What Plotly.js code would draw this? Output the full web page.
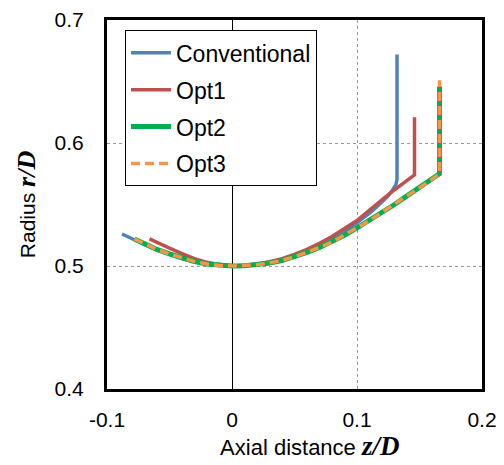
<!DOCTYPE html>
<html>
<head>
<meta charset="utf-8">
<script src="https://cdn.plot.ly/plotly-3.0.1.min.js"></script>
<style>html,body{margin:0;padding:0;background:#fff;}#chart{width:504px;height:465px;}</style>
</head>
<body>
<div id="chart"></div>
<script>
// Data
const convZ = [-0.088, -0.08, -0.07, -0.06, -0.05, -0.04, -0.03, -0.02, -0.01, 0, 0.01, 0.02, 0.03, 0.04, 0.05, 0.06, 0.07, 0.08, 0.09, 0.1, 0.105, 0.11, 0.115, 0.12, 0.124, 0.128, 0.131, 0.132, 0.132];
const convR = [0.526, 0.522, 0.5175, 0.513, 0.5095, 0.506, 0.5035, 0.5015, 0.5004, 0.5, 0.5003, 0.501, 0.5025, 0.5045, 0.5075, 0.511, 0.5155, 0.521, 0.5275, 0.535, 0.539, 0.543, 0.5475, 0.552, 0.556, 0.561, 0.566, 0.570, 0.672];

const opt1Z = [-0.066, -0.06, -0.05, -0.04, -0.03, -0.02, -0.01, 0, 0.01, 0.02, 0.03, 0.04, 0.05, 0.06, 0.07, 0.08, 0.09, 0.1, 0.11, 0.12, 0.13, 0.138, 0.146, 0.146];
const opt1R = [0.522, 0.519, 0.5145, 0.510, 0.506, 0.503, 0.501, 0.5, 0.5004, 0.5015, 0.5035, 0.506, 0.5095, 0.5135, 0.5185, 0.524, 0.5305, 0.537, 0.5455, 0.554, 0.562, 0.568, 0.574, 0.621];

const opt2Z = [-0.078, -0.07, -0.06, -0.05, -0.04, -0.03, -0.02, -0.01, 0, 0.01, 0.02, 0.03, 0.04, 0.05, 0.06, 0.07, 0.08, 0.09, 0.1, 0.11, 0.12, 0.13, 0.14, 0.15, 0.158, 0.166, 0.166];
const opt2R = [0.522, 0.518, 0.5135, 0.5098, 0.5065, 0.5037, 0.5016, 0.5004, 0.5, 0.5003, 0.501, 0.5025, 0.5045, 0.5075, 0.511, 0.515, 0.5195, 0.525, 0.531, 0.537, 0.5435, 0.550, 0.557, 0.5635, 0.569, 0.575, 0.646];

const opt3Z = [-0.078, -0.07, -0.06, -0.05, -0.04, -0.03, -0.02, -0.01, 0, 0.01, 0.02, 0.03, 0.04, 0.05, 0.06, 0.07, 0.08, 0.09, 0.1, 0.11, 0.12, 0.13, 0.14, 0.15, 0.158, 0.166, 0.166];
const opt3R = [0.522, 0.518, 0.5135, 0.5098, 0.5065, 0.5037, 0.5016, 0.5004, 0.5, 0.5003, 0.501, 0.5025, 0.5045, 0.5075, 0.511, 0.515, 0.5195, 0.525, 0.531, 0.537, 0.5435, 0.550, 0.557, 0.5635, 0.569, 0.575, 0.651];

const seriesNames = ['Conventional', 'Opt1', 'Opt2', 'Opt3'];
const xTickVals = [-0.1, 0, 0.1, 0.2];
const xTickText = ['-0.1', '0', '0.1', '0.2'];
const yTickVals = [0.4, 0.5, 0.6, 0.7];
const yTickText = ['0.4', '0.5', '0.6', '0.7'];

const traces = [
  {x: convZ, y: convR, name: seriesNames[0], mode: 'lines', legendgroup: 'a',
   line: {color: '#4F81BD', width: 3.5}},
  {x: opt1Z, y: opt1R, name: seriesNames[1], mode: 'lines', legendgroup: 'b',
   line: {color: '#C0504D', width: 3.5}},
  {x: opt2Z, y: opt2R, name: seriesNames[2], mode: 'lines', legendgroup: 'c',
   line: {color: '#00B050', width: 5}},
  {x: opt3Z, y: opt3R, name: seriesNames[3], mode: 'lines', legendgroup: 'd',
   line: {color: '#F79646', width: 3.5, dash: '9px,5px'}}
];

const serif = 'Liberation Serif, Times New Roman, serif';

const layout = {
  width: 504, height: 465,
  margin: {l: 107, r: 22, t: 20, b: 76},
  paper_bgcolor: '#fff', plot_bgcolor: '#fff',
  font: {family: 'Arial, Liberation Sans, sans-serif', size: 20, color: '#000'},
  showlegend: true,
  legend: {
    x: 0.048, y: 0.972, xanchor: 'left', yanchor: 'top',
    bgcolor: '#fff', bordercolor: '#000', borderwidth: 1,
    font: {size: 23, color: '#000'},
    tracegroupgap: 4,
    itemwidth: 40
  },
  xaxis: {
    range: [-0.1, 0.2], tickmode: 'array', tickvals: xTickVals, ticktext: xTickText,
    showgrid: true, gridcolor: '#999', griddash: '3px,3px', gridwidth: 1,
    zeroline: true, zerolinecolor: '#000', zerolinewidth: 1,
    showline: true, linecolor: '#000', linewidth: 3, mirror: true,
    ticks: '', ticklabelstandoff: 10,
    tickfont: {size: 21},
    title: {text: '&nbsp;&nbsp;&nbsp;&nbsp;&nbsp;Axial distance <span style="font-family:' + serif + ';font-size:27px"><b><i>z/D</i></b></span>',
            font: {size: 22}, standoff: 10}
  },
  yaxis: {
    range: [0.4, 0.7], tickmode: 'array', tickvals: yTickVals, ticktext: yTickText,
    showgrid: true, gridcolor: '#999', griddash: '3px,3px', gridwidth: 1,
    zeroline: false,
    showline: true, linecolor: '#000', linewidth: 3, mirror: true,
    ticks: '', ticklabelstandoff: 16,
    tickfont: {size: 21},
    title: {text: 'Radius <span style="font-family:' + serif + ';font-size:26px"><b><i>r/D</i></b></span>',
            font: {size: 21}, standoff: 14}
  }
};

Plotly.newPlot('chart', traces, layout, {displayModeBar: false, staticPlot: true});
</script>
</body>
</html>
